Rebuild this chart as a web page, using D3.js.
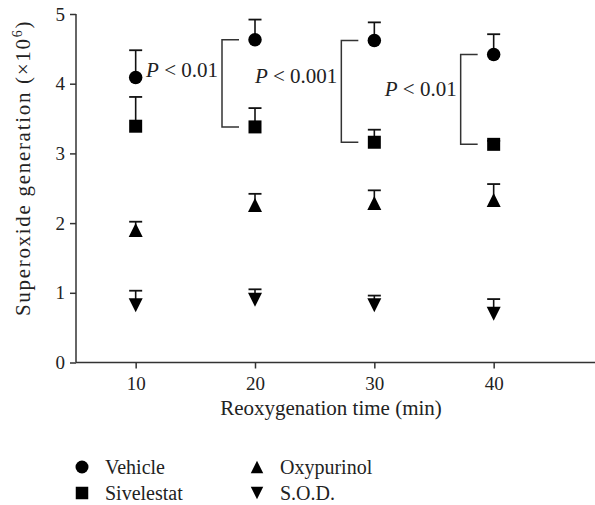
<!DOCTYPE html>
<html>
<head>
<meta charset="utf-8">
<script src="https://cdn.jsdelivr.net/npm/d3@7"></script>
<style>
  body { margin: 0; background: #fff; }
  svg text { font-family: "Liberation Serif", "Times New Roman", serif; fill: #222; }
</style>
</head>
<body>
<div id="chart"></div>
<script>
// reoxygenation times (min)
const times = [10, 20, 30, 40];

// means and upper error (SE) per group, x10^6
const vehicle = [4.09, 4.63, 4.62, 4.42];
const vehicleErr = [0.39, 0.29, 0.26, 0.29];
const sivelestat = [3.39, 3.38, 3.16, 3.13];
const sivelestatErr = [0.42, 0.27, 0.18, 0.05];
const oxypurinol = [1.90, 2.26, 2.29, 2.33];
const oxypurinolErr = [0.12, 0.16, 0.18, 0.23];
const sod = [0.82, 0.90, 0.82, 0.70];
const sodErr = [0.21, 0.15, 0.14, 0.21];

const yTicks = [0, 1, 2, 3, 4, 5];
const xTicks = [10, 20, 30, 40];

// significance brackets (vehicle vs sivelestat)
const pTimes = [20, 30, 40];
const pLabels = ["0.01", "0.001", "0.01"];
const pLabelAt = [4.10, 4.01, 3.82];

const width = 595, height = 505;
const svg = d3.select("#chart").append("svg")
    .attr("width", width)
    .attr("height", height);

let x = d3.scaleLinear().domain([5, 50]).range([76, 613]);
let y = d3.scaleLinear().domain([0, 5]).range([362.5, 14]);

// axes
let yAxis = svg.append("g")
    .attr("transform", "translate(76,0)")
    .call(d3.axisLeft(y).tickValues(yTicks).tickSize(6).tickPadding(5).tickFormat(d3.format("d")));
let xAxis = svg.append("g")
    .attr("transform", "translate(0,362.5)")
    .call(d3.axisBottom(x).tickValues(xTicks).tickSize(6).tickPadding(8).tickFormat(d3.format("d")));

[yAxis, xAxis].forEach(function (ax) {
    ax.attr("font-family", null).attr("font-size", null);
    ax.select(".domain").attr("stroke", "#333").attr("stroke-width", 1.5);
    ax.selectAll(".tick line").attr("stroke", "#333").attr("stroke-width", 1.5);
    ax.selectAll(".tick text").attr("font-size", 19).attr("fill", "#222");
});
yAxis.select(".domain").attr("d", "M0," + y(5) + "V" + y(0));
xAxis.select(".domain").attr("d", "M" + x(5) + ",0H" + x(50));

// axis titles
svg.append("text")
    .attr("x", 331)
    .attr("y", 415)
    .attr("text-anchor", "middle")
    .attr("font-size", 21)
    .text("Reoxygenation time (min)");

let yTitle = svg.append("text")
    .attr("transform", "translate(30,168) rotate(-90)")
    .attr("text-anchor", "middle")
    .attr("font-size", 21)
    .attr("letter-spacing", 1.7);
yTitle.append("tspan").text("Superoxide generation (\u00d710");
yTitle.append("tspan").attr("font-size", 14).attr("dy", -8).text("6");
yTitle.append("tspan").attr("dy", 8).text(")");

// marker shapes
function markerPath(type, s) {
    let h = s / 2;
    if (type === "circle") {
        return "M" + (-h) + ",0A" + h + "," + h + " 0 1,0 " + h + ",0A" + h + "," + h + " 0 1,0 " + (-h) + ",0Z";
    } else if (type === "square") {
        return "M" + (-h) + "," + (-h) + "H" + h + "V" + h + "H" + (-h) + "Z";
    } else if (type === "up") {
        return "M0," + (-h) + "L" + h + "," + h + "L" + (-h) + "," + h + "Z";
    } else {
        return "M0," + h + "L" + h + "," + (-h) + "L" + (-h) + "," + (-h) + "Z";
    }
}

let groups = [
    {name: "Vehicle", type: "circle", size: 13.5, mean: vehicle, err: vehicleErr},
    {name: "Sivelestat", type: "square", size: 13, mean: sivelestat, err: sivelestatErr},
    {name: "Oxypurinol", type: "up", size: 14, mean: oxypurinol, err: oxypurinolErr},
    {name: "S.O.D.", type: "down", size: 14, mean: sod, err: sodErr}
];

groups.forEach(function (g) {
    let pts = times.map(function (t, i) {
        return {t: t, m: g.mean[i], e: g.err[i]};
    });
    let grp = svg.append("g");
    // error bars (upper only)
    grp.selectAll("line.stem").data(pts).enter().append("line")
        .attr("x1", d => x(d.t)).attr("x2", d => x(d.t))
        .attr("y1", d => y(d.m)).attr("y2", d => y(d.m + d.e))
        .attr("stroke", "#111").attr("stroke-width", 1.6);
    grp.selectAll("line.cap").data(pts).enter().append("line")
        .attr("x1", d => x(d.t) - 6.5).attr("x2", d => x(d.t) + 6.5)
        .attr("y1", d => y(d.m + d.e)).attr("y2", d => y(d.m + d.e))
        .attr("stroke", "#111").attr("stroke-width", 1.8);
    grp.selectAll("path").data(pts).enter().append("path")
        .attr("transform", d => "translate(" + x(d.t) + "," + y(d.m) + ")")
        .attr("d", markerPath(g.type, g.size))
        .attr("fill", "#000");
});

// significance brackets
let armLen = 17;
pTimes.forEach(function (t, i) {
    let idx = times.indexOf(t);
    let bx = x(t) - 33;
    let top = y(vehicle[idx]), bot = y(sivelestat[idx]);
    svg.append("path")
        .attr("d", "M" + (bx + armLen) + "," + top + "H" + bx + "V" + bot + "H" + (bx + armLen))
        .attr("fill", "none")
        .attr("stroke", "#333")
        .attr("stroke-width", 1.5);
    let lab = svg.append("text")
        .attr("x", bx - 4)
        .attr("y", y(pLabelAt[i]))
        .attr("text-anchor", "end")
        .attr("font-size", 21);
    lab.append("tspan").attr("font-style", "italic").text("P");
    lab.append("tspan").text(" < " + pLabels[i]);
});

// legend
let legendCols = [82, 257];
groups.forEach(function (g, i) {
    let lx = legendCols[Math.floor(i / 2)];
    let ly = 467 + (i % 2) * 26;
    svg.append("path")
        .attr("transform", "translate(" + lx + "," + ly + ")")
        .attr("d", markerPath(g.type, g.type === "circle" ? 13 : 12.5))
        .attr("fill", "#000");
    svg.append("text")
        .attr("x", lx + 23)
        .attr("y", ly + 6.5)
        .attr("font-size", 20)
        .text(g.name);
});
</script>
</body>
</html>
